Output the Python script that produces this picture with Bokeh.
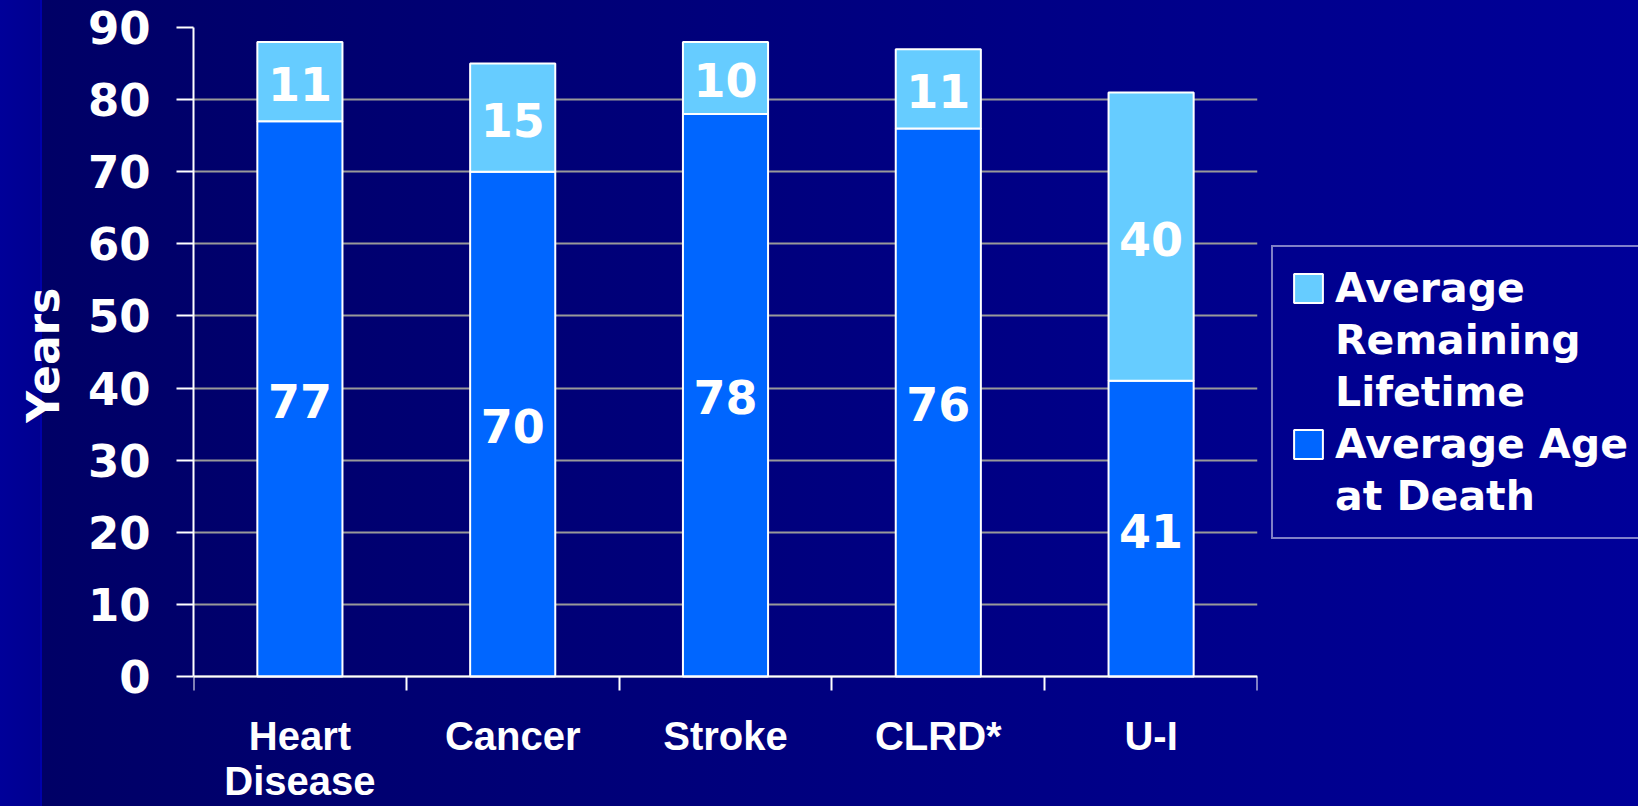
from bokeh.plotting import figure
from bokeh.layouts import row
from bokeh.models import (Range1d, FixedTicker, Legend, LegendItem, ColumnDataSource,
                          GlobalInlineStyleSheet)
from bokeh.core.properties import value
from bokeh.embed import file_html
from bokeh.resources import INLINE

# ---- data ----
categories = ["Heart\nDisease", "Cancer", "Stroke", "CLRD*", "U-I"]
age_at_death = [77, 70, 78, 76, 41]
remaining_lifetime = [11, 15, 10, 11, 40]
y_ticks = [0, 10, 20, 30, 40, 50, 60, 70, 80, 90]
series_names = ["Average Age\nat Death", "Average\nRemaining\nLifetime"]
y_axis_title = "Years"

# ---- layout constants (pixels) ----
W, H = 1638, 806
PLOT_W = 1270          # main chart area incl. axes
FRAME_TOP, AXIS_Y = 27, 676
y_top = y_ticks[-1]
# value range extends below 0 so the category labels sit inside the frame
y_bottom = -(H - AXIS_Y) * y_top / (AXIS_Y - FRAME_TOP)

# ---- derived ----
n = len(categories)
xs = [i + 0.5 for i in range(n)]
totals = [a + r for a, r in zip(age_at_death, remaining_lifetime)]
src = ColumnDataSource(dict(
    x=xs,
    age=age_at_death,
    rem=remaining_lifetime,
    total=totals,
    y_age=[a / 2 for a in age_at_death],
    y_rem=[a + r / 2 for a, r in zip(age_at_death, remaining_lifetime)],
    t_age=[str(a) for a in age_at_death],
    t_rem=[str(r) for r in remaining_lifetime],
))

DARK = "#0066FF"
LIGHT = "#66CCFF"
WHITE = "#FFFFFF"

p = figure(width=PLOT_W, height=H, output_backend="svg", toolbar_location=None,
           x_range=Range1d(0, n), y_range=Range1d(y_bottom, y_top),
           title=y_axis_title, title_location="left",
           min_border_left=193, min_border_right=13, min_border_top=FRAME_TOP, min_border_bottom=0)
p.background_fill_alpha = 0
p.border_fill_alpha = 0
p.outline_line_color = None

# axis title "Years", centred on the 0..90 span
p.title.align = "right"
p.title.offset = 260
p.title.standoff = 31
p.title.text_color = WHITE
p.title.text_font = "DejaVu Sans"
p.title.text_font_style = "bold"
p.title.text_font_size = "44px"

p.stylesheets = [GlobalInlineStyleSheet(css="""
html { height: 100%; background: linear-gradient(to right, #000099 0px, #000090 40px, #0000AA 40px, #0000AA 42px, #000066 42px, #000099 100%); }
body { background: transparent; }
""")]

r_age = p.vbar(x="x", bottom=0, top="age", width=0.4, source=src,
               fill_color=DARK, line_color=WHITE, line_width=2)
r_rem = p.vbar(x="x", bottom="age", top="total", width=0.4, source=src,
               fill_color=LIGHT, line_color=WHITE, line_width=2)

for ycol, tcol in (("y_age", "t_age"), ("y_rem", "t_rem")):
    p.text(x="x", y=ycol, text=tcol, source=src, text_color=WHITE,
           text_font=value("DejaVu Sans"), text_font_style="bold", text_font_size="46px",
           text_align="center", text_baseline="middle", y_offset=2)

# grid
p.xgrid.grid_line_color = None
p.ygrid.grid_line_color = "#999999"
p.ygrid.grid_line_width = 2
p.ygrid.ticker = FixedTicker(ticks=y_ticks)

# y axis
ya = p.yaxis[0]
ya.ticker = FixedTicker(ticks=y_ticks)
ya.bounds = (0, y_top)
ya.axis_line_color = WHITE
ya.axis_line_width = 2
ya.major_tick_line_color = WHITE
ya.major_tick_line_width = 2
ya.major_tick_out = 17
ya.major_tick_in = 0
ya.minor_tick_line_color = None
ya.major_label_text_color = WHITE
ya.major_label_text_font = "DejaVu Sans"
ya.major_label_text_font_style = "bold"
ya.major_label_text_font_size = "45px"
ya.major_label_standoff = 26

# x axis, drawn at value 0 inside the frame
xa = p.xaxis[0]
xa.fixed_location = 0
xa.ticker = FixedTicker(ticks=xs, minor_ticks=list(range(n + 1)))
xa.major_label_overrides = {x: c for x, c in zip(xs, categories)}
xa.axis_line_color = WHITE
xa.axis_line_width = 2
xa.major_tick_line_color = None
xa.major_tick_out = 0
xa.major_tick_in = 0
xa.minor_tick_line_color = WHITE
xa.minor_tick_line_width = 2
xa.minor_tick_out = 14
xa.minor_tick_in = 0
xa.major_label_text_color = WHITE
xa.major_label_text_font = "Liberation Sans"
xa.major_label_text_font_style = "bold"
xa.major_label_text_font_size = "40px"
xa.major_label_text_line_height = 1.03
xa.major_label_standoff = 23

# ---- legend panel (second figure in the same row) ----
p2 = figure(width=W - PLOT_W, height=H, output_backend="svg", toolbar_location=None,
            x_axis_type=None, y_axis_type=None,
            x_range=Range1d(0, 1), y_range=Range1d(0, 1),
            min_border_left=0, min_border_right=0, min_border_top=0, min_border_bottom=0)
p2.background_fill_alpha = 0
p2.border_fill_alpha = 0
p2.outline_line_color = None
p2.grid.visible = False
# hidden copies of the two series, used only for their legend swatches
k_rem = p2.vbar(x="x", bottom="age", top="total", width=0.4, source=src,
                fill_color=LIGHT, line_color=WHITE, line_width=2, visible=False)
k_age = p2.vbar(x="x", bottom=0, top="age", width=0.4, source=src,
                fill_color=DARK, line_color=WHITE, line_width=2, visible=False)
k_blank = p2.vbar(x="x", bottom=0, top="age", width=0.4, source=src,
                  fill_alpha=0, line_alpha=0, visible=False)

items = []
for name, rend in ((series_names[1], k_rem), (series_names[0], k_age)):
    for j, line in enumerate(name.split("\n")):
        items.append(LegendItem(label=line, renderers=[rend if j == 0 else k_blank]))

legend = Legend(items=items, location=(1, 267))
legend.background_fill_alpha = 0
legend.inactive_fill_alpha = 0
legend.border_line_color = WHITE
legend.border_line_width = 2
legend.label_text_color = WHITE
legend.label_text_font = "DejaVu Sans"
legend.label_text_font_style = "bold"
legend.label_text_font_size = "41px"
legend.label_height = 48
legend.glyph_width = 36
legend.glyph_height = 36
legend.label_standoff = 9
legend.padding = 17
legend.spacing = 4
legend.margin = 0
p2.add_layout(legend)

layout = row(p, p2)
open("out.html", "w").write(file_html(layout, INLINE))
